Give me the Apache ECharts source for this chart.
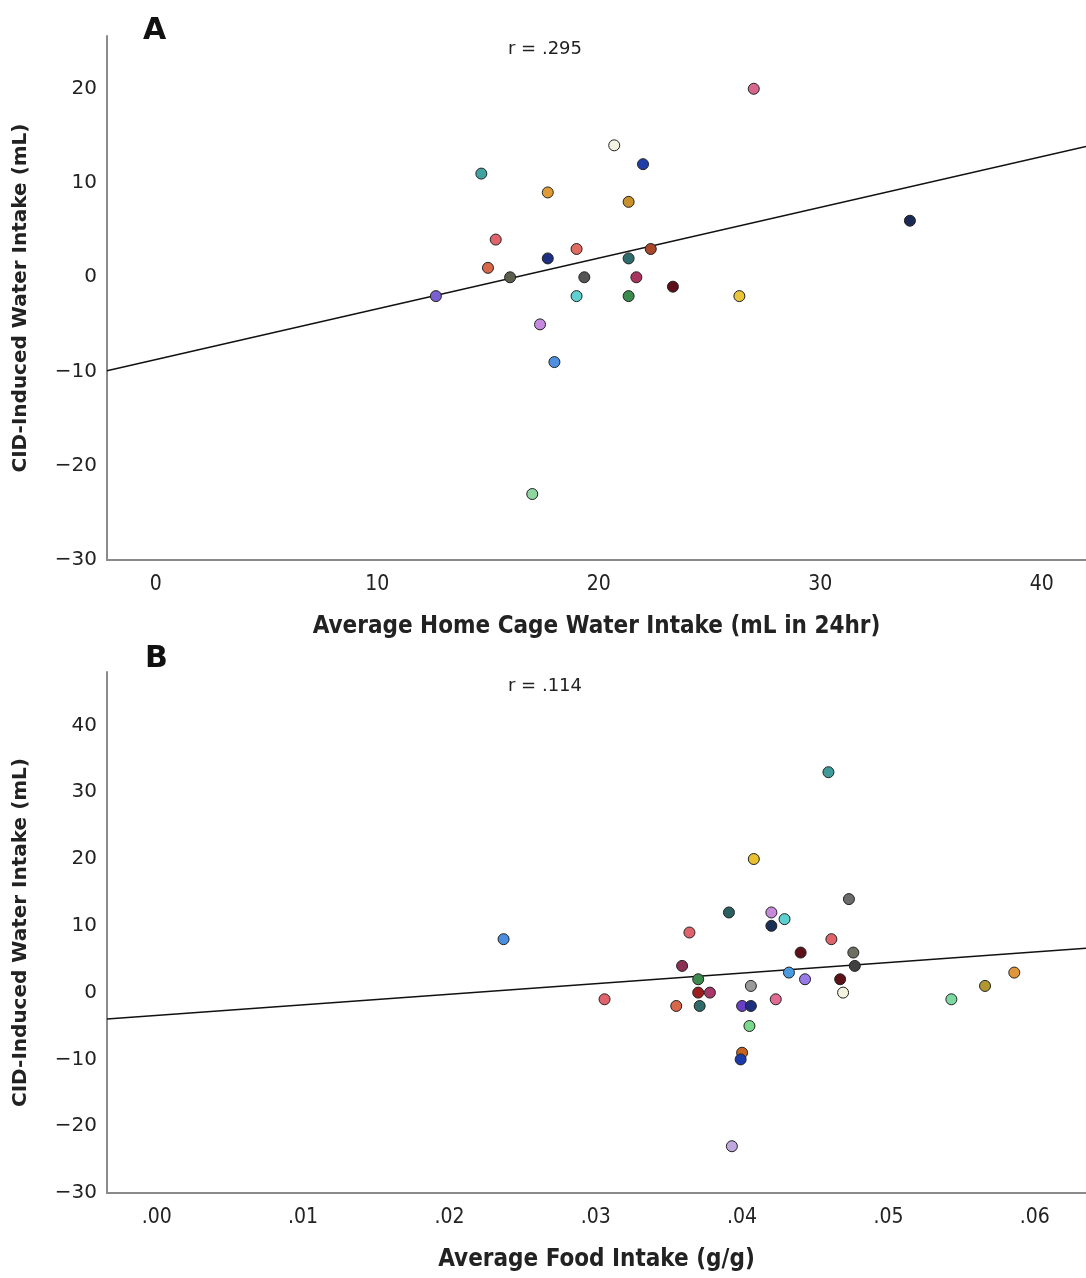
<!DOCTYPE html>
<html>
<head>
<meta charset="utf-8">
<script src="https://cdn.jsdelivr.net/npm/echarts@6/dist/echarts.min.js"></script>
<style>
  html, body { margin: 0; padding: 0; background: #fff; }
  #chart { width: 1086px; height: 1278px; }
</style>
</head>
<body>
<div id="chart"></div>
<script>
// panel A: home cage water intake vs CID water intake
const homeWaterA = [27.0, 20.7, 22.0, 14.7, 17.7, 21.35, 34.05, 15.35, 19.0, 22.35, 17.7, 21.35,
    15.0, 16.0, 19.35, 21.7, 23.35, 12.65, 19.0, 21.35, 26.35, 17.35, 18.0, 17.0];
const cidWaterA = [20, 14, 12, 11, 9, 8, 6, 4, 3, 3, 2, 2,
    1, 0, 0, 0, -1, -2, -2, -2, -2, -5, -9, -23];
const colorsA = ['#d9668f', '#f3f3e4', '#1f3fa8', '#3fa3a0', '#e09a35', '#c8912e', '#1a2a55', '#e0626a',
    '#e06b60', '#a8472a', '#1c2f80', '#2f6b6b', '#d9674a', '#5c5e4c', '#555555', '#a83560',
    '#5c0f1a', '#7a5fd0', '#5fd0d0', '#3c8a4e', '#e8c638', '#c58ae0', '#4f8fe0', '#8fd6a0'];
const ticksAx = [0, 10, 20, 30, 40];
const ticksAy = [-30, -20, -10, 0, 10, 20];

// panel B: food intake vs CID water intake
const foodB = [0.0459, 0.0408, 0.0473, 0.0391, 0.0420, 0.0429, 0.0420, 0.0364, 0.0237, 0.0461,
    0.0440, 0.0476, 0.0359, 0.0477, 0.0432, 0.0370, 0.0443, 0.0467, 0.0406, 0.0370,
    0.0378, 0.0469, 0.0306, 0.0423, 0.0355, 0.0371, 0.0400, 0.0406, 0.0405, 0.0400,
    0.0399, 0.0393, 0.0543, 0.0566, 0.0586];
const cidWaterB = [33, 20, 14, 12, 12, 11, 10, 9, 8, 8,
    6, 6, 4, 4, 3, 2, 2, 2, 1, 0,
    0, 0, -1, -1, -2, -2, -2, -2, -5, -9,
    -10, -23, -1, 1, 3];
const colorsB = ['#3f9a9a', '#e8c030', '#6b6b6b', '#2c6060', '#c58ad8', '#5ccfd0', '#1a2f55', '#e0626a',
    '#4a8ee0', '#e0626a', '#5c1018', '#6b7060', '#8c2f55', '#404040', '#4a9ae0', '#3c8a4e',
    '#9a7ae8', '#5c1018', '#9a9a9a', '#9a2020', '#a8386a', '#f3f3e0', '#e0626a', '#e06a90',
    '#d9674a', '#2f6b6b', '#6a3fc8', '#1c2f80', '#7ad88a', '#c8641e', '#1c3aa8', '#c0a8e0',
    '#7ad8a0', '#b0982e', '#e0963a'];
const ticksBx = [0, 0.01, 0.02, 0.03, 0.04, 0.05, 0.06];
const ticksBy = [-30, -20, -10, 0, 10, 20, 30, 40];

const rangeAx = [-2.2, 42], rangeAy = [-30, 25.6];
const rangeBx = [-0.0034, 0.0635], rangeBy = [-30, 48];

// least squares fit line across the axis range
function fitLine(xs, ys, x0, x1) {
    let n = xs.length, mx = 0, my = 0;
    for (let i = 0; i < n; i++) { mx += xs[i]; my += ys[i]; }
    mx /= n; my /= n;
    let sxy = 0, sxx = 0;
    for (let i = 0; i < n; i++) {
        sxy += (xs[i] - mx) * (ys[i] - my);
        sxx += (xs[i] - mx) * (xs[i] - mx);
    }
    let b = sxy / sxx, a = my - b * mx;
    return [[x0, a + b * x0], [x1, a + b * x1]];
}

const minus = v => String(v).replace('-', '\u2212');
const axisGray = { onZero: false, lineStyle: { color: '#8a8a8a', width: 2 } };
const xLabel = { fontFamily: "'DejaVu Sans Condensed', 'Liberation Sans Narrow', sans-serif", fontSize: 21, color: '#222', margin: 14 };
const yLabel = { fontFamily: 'DejaVu Sans', fontSize: 20, color: '#222', margin: 10 };
const xName = { fontFamily: "'DejaVu Sans Condensed', 'Liberation Sans Narrow', sans-serif", fontWeight: 'bold', fontSize: 24, color: '#222' };
const yName = { fontFamily: 'DejaVu Sans', fontWeight: 'bold', fontSize: 20, color: '#222' };

function scatter(xs, ys, colors, idx) {
    return {
        type: 'scatter',
        xAxisIndex: idx, yAxisIndex: idx,
        data: xs.map((x, i) => [x, ys[i]]),
        symbolSize: 11,
        z: 3,
        itemStyle: {
            color: p => colors[p.dataIndex],
            borderColor: '#222',
            borderWidth: 1,
            opacity: 1
        }
    };
}

let chart = echarts.init(document.getElementById('chart'));
let option = {
    animation: false,
    backgroundColor: '#fff',
    grid: [
        { left: 107, top: 36, width: 979, height: 524 },
        { left: 107, top: 672, width: 979, height: 521 }
    ],
    xAxis: [
        {
            gridIndex: 0, type: 'value', min: rangeAx[0], max: rangeAx[1],
            name: 'Average Home Cage Water Intake (mL in 24hr)', nameLocation: 'middle', nameGap: 55,
            nameTextStyle: xName,
            axisLine: axisGray, axisTick: { show: false }, splitLine: { show: false },
            axisLabel: Object.assign({ customValues: ticksAx, formatter: v => minus(v) }, xLabel)
        },
        {
            gridIndex: 1, type: 'value', min: rangeBx[0], max: rangeBx[1],
            name: 'Average Food Intake (g/g)', nameLocation: 'middle', nameGap: 55,
            nameTextStyle: xName,
            axisLine: axisGray, axisTick: { show: false }, splitLine: { show: false },
            axisLabel: Object.assign({ customValues: ticksBx, formatter: v => v.toFixed(2).replace(/^0/, '') }, xLabel)
        }
    ],
    yAxis: [
        {
            gridIndex: 0, type: 'value', min: rangeAy[0], max: rangeAy[1],
            name: 'CID-Induced Water Intake (mL)', nameLocation: 'middle', nameGap: 76,
            nameTextStyle: yName,
            axisLine: axisGray, axisTick: { show: false }, splitLine: { show: false },
            axisLabel: Object.assign({ customValues: ticksAy, formatter: v => minus(v) }, yLabel)
        },
        {
            gridIndex: 1, type: 'value', min: rangeBy[0], max: rangeBy[1],
            name: 'CID-Induced Water Intake (mL)', nameLocation: 'middle', nameGap: 76,
            nameTextStyle: yName,
            axisLine: axisGray, axisTick: { show: false }, splitLine: { show: false },
            axisLabel: Object.assign({ customValues: ticksBy, formatter: v => minus(v) }, yLabel)
        }
    ],
    graphic: [
        { type: 'text', left: 143, top: 16, style: { text: 'A', font: 'bold 30px DejaVu Sans', fill: '#111' } },
        { type: 'text', left: 145, top: 644, style: { text: 'B', font: 'bold 30px DejaVu Sans', fill: '#111' } },
        { type: 'text', left: 508, top: 40, style: { text: 'r = .295', font: '18px DejaVu Sans', fill: '#222' } },
        { type: 'text', left: 508, top: 677, style: { text: 'r = .114', font: '18px DejaVu Sans', fill: '#222' } }
    ],
    series: [
        {
            type: 'line', xAxisIndex: 0, yAxisIndex: 0, z: 2,
            data: fitLine(homeWaterA, cidWaterA, rangeAx[0], rangeAx[1]),
            showSymbol: false, lineStyle: { color: '#111', width: 1.5 }
        },
        scatter(homeWaterA, cidWaterA, colorsA, 0),
        {
            type: 'line', xAxisIndex: 1, yAxisIndex: 1, z: 2,
            data: fitLine(foodB, cidWaterB, rangeBx[0], rangeBx[1]),
            showSymbol: false, lineStyle: { color: '#111', width: 1.5 }
        },
        scatter(foodB, cidWaterB, colorsB, 1)
    ]
};
chart.setOption(option);
</script>
</body>
</html>
